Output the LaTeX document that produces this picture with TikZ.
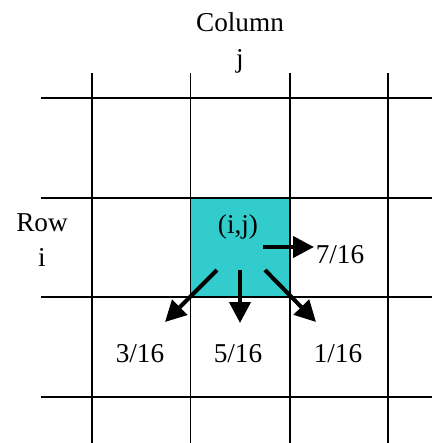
\documentclass[tikz,border=0pt]{standalone}
\usepackage{fontspec}
\setmainfont{Liberation Serif}
\usepackage{tikz}
\usetikzlibrary{arrows.meta,positioning,calc}

\begin{document}
\begin{tikzpicture}[
    x=0.02cm,y=-0.02cm,
    >={Triangle[length=4.2mm,width=4.2mm]},
    gridline/.style={draw=black,line width=1.1pt},
    share/.style={->,line width=2.3pt,draw=black},
    label/.style={font=\fontsize{15.5}{17}\selectfont,align=center,inner sep=0pt}
  ]
    \useasboundingbox (0,0) rectangle (432,443);
    % the pixel (i,j) being diffused
    \fill[fill={rgb,255:red,51;green,204;blue,204}] (190.5,198) rectangle (290,297);
    \foreach \y in {98,198,297,397}
      \draw[gridline] (41,\y) -- (432,\y);
    \foreach \x in {92,190.5,290,388}
      \draw[gridline] (\x,73) -- (\x,443);
    \node[label] (col) at (240,43) {Column\\[3pt]j};
    \node[label] (row) at (42,240) {Row\\[3pt]i};
    \node[label] (ij) at (238,227) {(i,j)};
    \node[label] (east) at (340,255) {7/16};
    \node[label] (sw) at (140,354) {3/16};
    \node[label] (s) at (238,354) {5/16};
    \node[label] (se) at (338,354) {1/16};
    \coordinate (from e) at (263,247);
    \coordinate (to e) at (314,247);
    \coordinate (from sw) at (217,270);
    \coordinate (to sw) at (165,322);
    \coordinate (from s) at (240,270);
    \coordinate (to s) at (240,323);
    \coordinate (from se) at (265,270);
    \coordinate (to se) at (316,322);
    \draw[share] (from e) -- (to e);
    \draw[share] (from sw) -- (to sw);
    \draw[share] (from s) -- (to s);
    \draw[share] (from se) -- (to se);
\end{tikzpicture}
\end{document}
